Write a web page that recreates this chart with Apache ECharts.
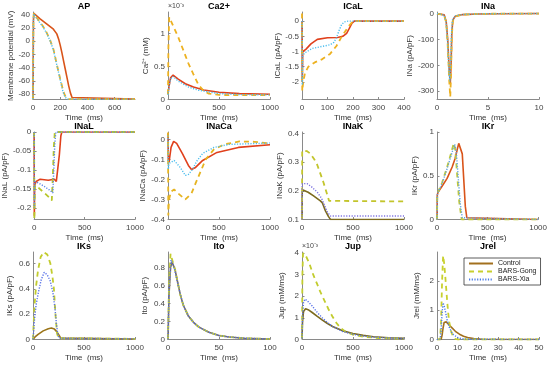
<!DOCTYPE html>
<html><head><meta charset="utf-8">
<script src="https://cdn.jsdelivr.net/npm/echarts@6/dist/echarts.min.js"></script>
<style>html,body{margin:0;padding:0;background:#fff}#c{width:550px;height:368px}</style>
</head><body><div id="c"></div>
<script>
// ---------------- data ----------------
const seriesNames = ['Control', 'BARS-Gong', 'BARS-Xia'];
const panelTitles = ['AP', 'Ca2+', 'ICaL', 'INa', 'INaL', 'INaCa', 'INaK', 'IKr', 'IKs', 'Ito', 'Jup', 'Jrel'];
const yNames = ['Membrane potential (mV)', 'Ca\u00b2\u207a (mM)', 'ICaL (pA/pF)', 'INa (pA/pF)', 'INaL (pA/pF)', 'INaCa (pA/pF)',
  'INaK (pA/pF)', 'IKr (pA/pF)', 'IKs (pA/pF)', 'Ito (pA/pF)', 'Jup (mM/ms)', 'Jrel (mM/ms)'];
const xName = 'Time  (ms)';

// tick labels
const apXTicks = [0, 200, 400, 600];
const apYTicks = [-80, -60, -40, -20, 0, 20, 40];
const caXTicks = [0, 500, 1000];
const caYTicks = [0, 0.5, 1];
const icalXTicks = [0, 100, 200, 300, 400];
const icalYTicks = [-2, -1.5, -1, -0.5, 0];
const inaXTicks = [0, 5, 10];
const inaYTicks = [-300, -200, -100, 0];
const inalXTicks = [0, 500, 1000];
const inalYTicks = [-0.2, -0.15, -0.1, -0.05, 0];
const inacaXTicks = [0, 500, 1000];
const inacaYTicks = [-0.4, -0.3, -0.2, -0.1, 0];
const inakXTicks = [0, 500, 1000];
const inakYTicks = [0.1, 0.2, 0.3, 0.4];
const ikrXTicks = [0, 500, 1000];
const ikrYTicks = [0, 0.5, 1];
const iksXTicks = [0, 500, 1000];
const iksYTicks = [0, 0.2, 0.4, 0.6];
const itoXTicks = [0, 50, 100];
const itoYTicks = [0, 0.2, 0.4, 0.6, 0.8];
const jupXTicks = [0, 500, 1000];
const jupYTicks = [0, 1, 2, 3, 4];
const jrelXTicks = [0, 10, 20, 30, 40, 50];
const jrelYTicks = [0, 1, 2];
const exponentLabel = '\u00d710\u207b\u00b3';

// AP (mV)
const apControl = [[0,-87.5],[3,30],[6,42],[20,39],[50,34],[100,26],[150,18],[175,11],[190,2],[200,-6],[212,-17],[225,-30],[237,-42],[250,-55],[262,-67],[275,-78],[287,-85],[300,-87.5],[750,-87.5]];
const apGong = [[0,-87.5],[3,30],[6,42],[25,36],[50,29],[75,22],[100,13],[125,2],[150,-12],[175,-35],[200,-57],[225,-77],[240,-84],[255,-87.5],[750,-87.5]];
const apXia = [[0,-87.5],[3,30],[6,41],[25,35],[50,28],[75,21],[100,12],[125,1],[150,-13],[175,-36],[200,-58],[220,-76],[235,-84],[250,-87.5],[750,-87.5]];
// Ca2+ (x1e-3 mM)
const caControl = [[0,0.08],[10,0.2],[25,0.33],[50,0.37],[100,0.31],[170,0.24],[250,0.19],[350,0.145],[500,0.11],[700,0.09],[1000,0.08]];
const caGong = [[0,0.08],[4,0.8],[12,1.25],[50,1.12],[100,0.95],[150,0.75],[200,0.55],[250,0.38],[300,0.22],[350,0.13],[400,0.09],[500,0.07],[700,0.065],[1000,0.065]];
const caXia = [[0,0.07],[10,0.19],[25,0.31],[50,0.35],[100,0.28],[200,0.19],[300,0.14],[500,0.09],[700,0.075],[1000,0.07]];
// ICaL
const icalControl = [[0,0],[1,-2.0],[3,-1.0],[15,-0.93],[35,-0.75],[60,-0.6],[100,-0.55],[140,-0.54],[160,-0.5],[175,-0.4],[185,-0.25],[195,-0.08],[205,0],[400,0]];
const icalGong = [[0,0.25],[1,-2.3],[5,-2.0],[12,-1.7],[25,-1.5],[50,-1.36],[80,-1.25],[110,-1.08],[135,-0.82],[155,-0.52],[170,-0.33],[185,-0.15],[200,0],[400,0]];
const icalXia = [[0,0],[1,-2.1],[3,-1.15],[10,-1.05],[40,-0.9],[80,-0.83],[110,-0.78],[125,-0.7],[135,-0.55],[145,-0.32],[155,-0.12],[165,-0.03],[180,0],[400,0]];
// INa
const inaControl = [[0,0],[0.7,-5],[0.9,-30],[1.05,-100],[1.2,-220],[1.3,-272],[1.38,-200],[1.45,-80],[1.55,-25],[1.8,-10],[2.5,-4],[4,-1.5],[6,-0.5],[10,0]];
const inaGong = [[0,0],[0.7,-6],[0.9,-35],[1.05,-120],[1.2,-260],[1.3,-322],[1.38,-230],[1.45,-90],[1.55,-28],[1.8,-11],[2.5,-4],[4,-1.5],[6,-0.5],[10,0]];
const inaXia = [[0,0],[0.7,-6],[0.9,-35],[1.05,-115],[1.18,-230],[1.26,-262],[1.35,-180],[1.43,-70],[1.53,-22],[1.8,-9],[2.5,-3.5],[4,-1.3],[6,-0.5],[10,0]];
// INaL
const inalControl = [[0,0],[2,-0.22],[5,-0.14],[20,-0.13],[60,-0.124],[140,-0.127],[200,-0.124],[220,-0.13],[235,-0.135],[250,-0.06],[265,-0.01],[275,0],[1000,0]];
const inalGong = [[0,0],[2,-0.23],[8,-0.14],[50,-0.148],[100,-0.16],[150,-0.172],[175,-0.18],[185,-0.12],[195,-0.04],[205,0],[1000,0]];
const inalXia = [[0,0],[2,-0.2],[5,-0.13],[50,-0.135],[100,-0.143],[150,-0.152],[185,-0.16],[195,-0.1],[205,-0.03],[215,0],[1000,0]];
// INaCa
const inacaControl = [[0,0.03],[3,-0.1],[10,-0.115],[30,-0.04],[55,-0.01],[85,-0.02],[140,-0.07],[200,-0.13],[230,-0.15],[270,-0.14],[340,-0.105],[480,-0.065],[690,-0.04],[1000,-0.027]];
const inacaGong = [[0,0.035],[3,-0.38],[10,-0.3],[30,-0.26],[60,-0.25],[100,-0.27],[170,-0.3],[230,-0.27],[270,-0.22],[320,-0.16],[370,-0.1],[450,-0.05],[550,-0.025],[700,-0.01],[850,-0.012],[1000,-0.02]];
const inacaXia = [[0,0.02],[3,-0.15],[10,-0.12],[60,-0.105],[120,-0.14],[170,-0.18],[200,-0.175],[240,-0.15],[280,-0.11],[340,-0.07],[450,-0.04],[600,-0.025],[1000,-0.018]];
// INaK
const inakControl = [[0,0.1],[2,0.195],[10,0.203],[60,0.195],[110,0.183],[180,0.165],[200,0.158],[230,0.13],[260,0.11],[280,0.1],[1000,0.1]];
const inakGong = [[0,0.1],[2,0.34],[10,0.346],[50,0.338],[80,0.33],[120,0.31],[150,0.29],[180,0.26],[210,0.23],[240,0.195],[265,0.165],[1000,0.163]];
const inakXia = [[0,0.1],[2,0.225],[10,0.23],[50,0.225],[100,0.212],[150,0.195],[190,0.175],[220,0.15],[250,0.125],[280,0.112],[1000,0.112]];
// IKr
const ikrControl = [[0,0],[3,0.28],[10,0.31],[50,0.38],[100,0.47],[150,0.6],[180,0.7],[200,0.8],[215,0.87],[230,0.85],[250,0.75],[265,0.45],[280,0.15],[295,0.02],[300,0],[1000,0]];
const ikrGong = [[0,0],[3,0.28],[10,0.31],[50,0.42],[100,0.6],[140,0.76],[165,0.87],[180,0.8],[200,0.5],[220,0.2],[240,0.03],[245,0],[1000,0]];
const ikrXia = [[0,0],[3,0.28],[10,0.31],[50,0.41],[100,0.58],[150,0.77],[175,0.86],[190,0.78],[210,0.48],[230,0.18],[250,0.02],[255,0],[1000,0]];
// IKs
const iksControl = [[0,0],[20,0.02],[50,0.04],[100,0.068],[150,0.085],[180,0.09],[210,0.082],[235,0.06],[255,0.035],[270,0.012],[285,0.004],[1000,0.004]];
const iksGong = [[0,0],[5,0.1],[15,0.27],[30,0.42],[50,0.55],[75,0.65],[105,0.69],[140,0.67],[170,0.6],[190,0.5],[205,0.4],[220,0.2],[235,0.05],[250,0.01],[1000,0.005]];
const iksXia = [[0,0],[5,0.05],[15,0.16],[30,0.27],[50,0.36],[80,0.47],[110,0.53],[140,0.51],[170,0.46],[195,0.37],[215,0.25],[230,0.12],[245,0.03],[260,0.01],[1000,0.005]];
// Ito
const itoControl = [[0,0],[1,0.5],[2.5,0.8],[4,0.86],[5.5,0.84],[7,0.77],[9,0.66],[12,0.5],[15,0.38],[20,0.26],[25,0.19],[30,0.14],[40,0.08],[50,0.045],[60,0.027],[75,0.014],[100,0.006]];
const itoGong = [[0,0],[1,0.6],[2.5,0.95],[3.5,0.91],[5,0.85],[7,0.77],[9,0.66],[12,0.5],[15,0.38],[20,0.26],[25,0.19],[30,0.14],[40,0.08],[50,0.045],[60,0.027],[75,0.014],[100,0.006]];
const itoXia = [[0,0],[1,0.55],[3,0.88],[4.5,0.86],[6,0.8],[8,0.7],[10,0.6],[13,0.46],[16,0.35],[20,0.26],[25,0.19],[30,0.14],[40,0.08],[50,0.045],[60,0.027],[75,0.014],[100,0.006]];
// Jup (x1e-3 mM/ms)
const jupControl = [[0,0.05],[5,0.8],[15,1.3],[35,1.42],[60,1.38],[100,1.25],[150,1.07],[200,0.9],[250,0.74],[300,0.6],[400,0.4],[500,0.28],[600,0.19],[700,0.13],[850,0.08],[1000,0.05]];
const jupGong = [[0,0.05],[4,3.0],[10,4.0],[40,3.85],[70,3.55],[110,3.0],[150,2.55],[180,2.2],[220,1.8],[260,1.4],[300,1.05],[340,0.75],[380,0.52],[430,0.35],[500,0.22],[600,0.13],[750,0.07],[1000,0.04]];
const jupXia = [[0,0.05],[5,1.0],[15,1.75],[30,1.87],[60,1.75],[100,1.55],[150,1.25],[200,1.0],[250,0.78],[300,0.6],[400,0.37],[500,0.24],[600,0.16],[700,0.11],[850,0.07],[1000,0.05]];
// Jrel
const jrelControl = [[0,0],[2,0],[2.5,0.15],[3,0.4],[3.5,0.58],[4,0.62],[4.5,0.6],[5.5,0.53],[7,0.42],[9,0.28],[11,0.18],[13,0.11],[15,0.07],[18,0.03],[22,0.01],[30,0],[50,0]];
const jrelGong = [[0,0],[1.5,0],[2,0.6],[2.5,2.0],[3,2.85],[3.5,2.6],[4,2.2],[4.5,1.75],[5,1.3],[5.5,0.9],[6,0.6],[7,0.25],[8,0.08],[9,0.02],[10,0],[50,0]];
const jrelXia = [[0,0],[1.5,0],[2,0.3],[2.5,0.9],[3,1.25],[3.5,1.15],[4,1.0],[5,0.65],[6,0.42],[7,0.27],[8,0.17],[10,0.07],[12,0.03],[15,0.01],[50,0]];

// ---------------- layout / style ----------------
const FONT = '"Liberation Sans", Arial, Helvetica, sans-serif';
const colLeft = [33, 168, 302, 437];
const rowTop = [12, 132, 252];
const plotW = 102, plotH = 87.5;

const panels = [
  {x:[0,750], y:[-88,44], xt:apXTicks, yt:apYTicks, gap:15, d:[apControl, apGong, apXia], c:['#d9541a','#edb120','#4dbeee']},
  {x:[0,1000], y:[0,1.33], xt:caXTicks, yt:caYTicks, gap:15, d:[caControl, caGong, caXia], c:['#e0401c','#edb120','#4dbeee'], exp:true},
  {x:[0,400], y:[-2.58,0.3], xt:icalXTicks, yt:icalYTicks, gap:15, d:[icalControl, icalGong, icalXia], c:['#e0401c','#edb120','#4dbeee']},
  {x:[0,10], y:[-332,6], xt:inaXTicks, yt:inaYTicks, gap:20, d:[inaControl, inaGong, inaXia], c:['#d9541a','#edb120','#4dbeee']},
  {x:[0,1000], y:[-0.23,0], xt:inalXTicks, yt:inalYTicks, gap:21, d:[inalControl, inalGong, inalXia], c:['#e0401c','#b8c62a','#5b86e5']},
  {x:[0,1000], y:[-0.4,0.037], xt:inacaXTicks, yt:inacaYTicks, gap:21, d:[inacaControl, inacaGong, inacaXia], c:['#e0401c','#e6b422','#4dbeee']},
  {x:[0,1000], y:[0.1,0.405], xt:inakXTicks, yt:inakYTicks, gap:16, d:[inakControl, inakGong, inakXia], c:['#7d6b1e','#c3c52c','#7d72e0']},
  {x:[0,1000], y:[0,1], xt:ikrXTicks, yt:ikrYTicks, gap:16, d:[ikrControl, ikrGong, ikrXia], c:['#d9541a','#c0c83a','#5fa0e0']},
  {x:[0,1000], y:[0,0.69], xt:iksXTicks, yt:iksYTicks, gap:19, d:[iksControl, iksGong, iksXia], c:['#9b7519','#c2cc2e','#5670e8']},
  {x:[0,100], y:[0,0.97], xt:itoXTicks, yt:itoYTicks, gap:19, d:[itoControl, itoGong, itoXia], c:['#7f7250','#c4cc2e','#5670e8']},
  {x:[0,1000], y:[0,4.05], xt:jupXTicks, yt:jupYTicks, gap:16, d:[jupControl, jupGong, jupXia], c:['#7d6b1e','#c2cc2e','#5670e8'], exp:true},
  {x:[0,50], y:[0,2.98], xt:jrelXTicks, yt:jrelYTicks, gap:16, d:[jrelControl, jrelGong, jrelXia], c:['#a2701e','#c8d02e','#4a7be8']}
];

const grid = [], xAxis = [], yAxis = [], series = [], title = [];
const fmt = v => String(v);
panels.forEach((p, i) => {
  const col = i % 4, row = Math.floor(i / 4);
  const left = colLeft[col], top = rowTop[row];
  grid.push({left: left, top: top, width: plotW, height: plotH, containLabel: false});
  const axisCommon = {
    type: 'value', gridIndex: i, splitLine: {show: false},
    axisLine: {show: true, onZero: false, lineStyle: {color: '#8a8a8a', width: 1}},
    nameTextStyle: {fontFamily: FONT, fontSize: 8, color: '#333'}
  };
  xAxis.push(Object.assign({}, axisCommon, {
    min: p.x[0], max: p.x[1],
    axisTick: {show: true, inside: true, length: 2.5, customValues: p.xt, lineStyle: {color: '#8a8a8a'}},
    axisLabel: {customValues: p.xt, formatter: fmt, fontFamily: FONT, fontSize: 8, color: '#444', margin: 4, showMinLabel: true, showMaxLabel: true, hideOverlap: false},
    name: xName, nameLocation: 'middle', nameGap: 14
  }));
  yAxis.push(Object.assign({}, axisCommon, {
    min: p.y[0], max: p.y[1],
    axisTick: {show: true, inside: true, length: 2.5, customValues: p.yt, lineStyle: {color: '#8a8a8a'}},
    axisLabel: {customValues: p.yt, formatter: fmt, fontFamily: FONT, fontSize: 8, color: '#444', margin: 3, showMinLabel: true, showMaxLabel: true, hideOverlap: false},
    name: yNames[i], nameLocation: 'middle', nameGap: p.gap
  }));
  title.push({
    text: panelTitles[i], left: left + plotW / 2, top: top - 10, textAlign: 'center',
    textStyle: {fontFamily: FONT, fontSize: 9, fontWeight: 'bold', color: '#000'}, padding: 0
  });
  if (p.exp) {
    title.push({
      text: exponentLabel, left: left, top: top - 9, padding: 0,
      textStyle: {fontFamily: FONT, fontSize: 7, fontWeight: 'normal', color: '#444'}
    });
  }
  const styles = [
    {type: 'solid', width: 1.6},
    {type: [5, 4], width: 1.8},
    {type: [1.2, 1.5], width: 1.4}
  ];
  p.d.forEach((arr, k) => {
    series.push({
      type: 'line', name: i === 11 ? seriesNames[k] : panelTitles[i] + ' ' + seriesNames[k],
      xAxisIndex: i, yAxisIndex: i, data: arr, symbol: 'none', showSymbol: false,
      silent: true, clip: true, z: 2 + k,
      lineStyle: Object.assign({color: p.c[k]}, styles[k]),
      itemStyle: {color: p.c[k]}
    });
  });
});

const chart = echarts.init(document.getElementById('c'), null, {renderer: 'canvas'});
chart.setOption({
  animation: false,
  backgroundColor: '#fff',
  title: title,
  grid: grid, xAxis: xAxis, yAxis: yAxis, series: series,
  legend: {
    data: seriesNames, orient: 'vertical', left: 464, top: 258,
    itemWidth: 24, itemHeight: 7, itemGap: 1, padding: [2, 4],
    borderColor: '#333', borderWidth: 0.8, backgroundColor: '#fff',
    itemStyle: {opacity: 0},
    textStyle: {fontFamily: FONT, fontSize: 7, color: '#222'},
    selectedMode: false
  }
});
</script></body></html>
